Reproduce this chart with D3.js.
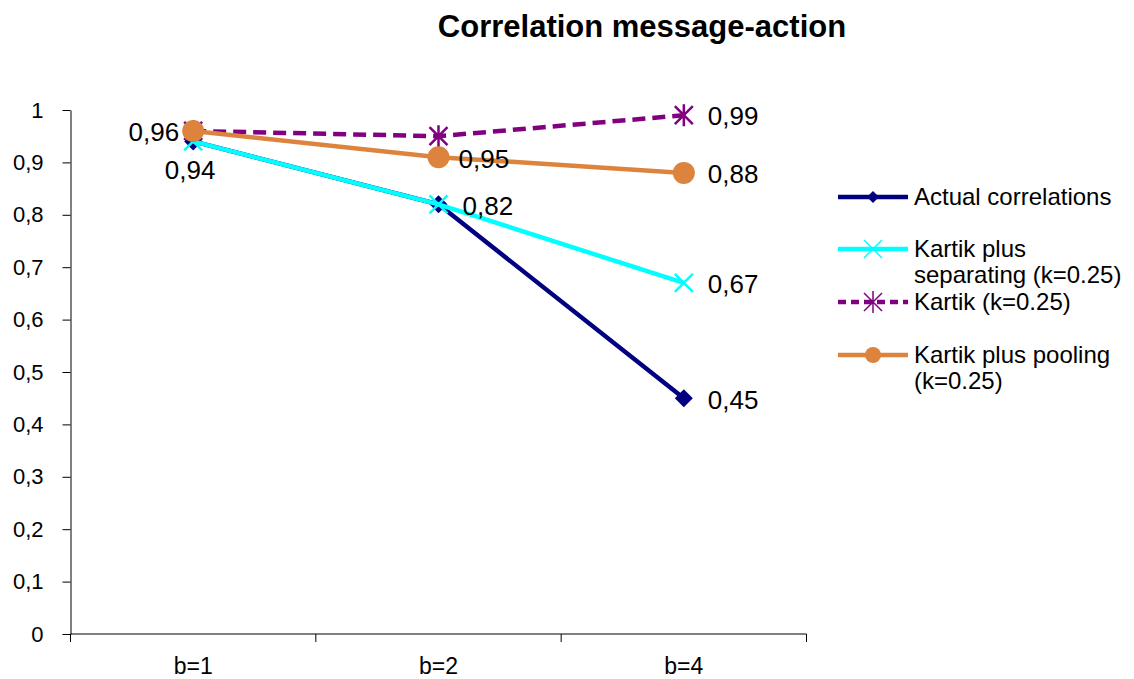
<!DOCTYPE html>
<html>
<head>
<meta charset="utf-8">
<script src="https://cdn.jsdelivr.net/npm/d3@7"></script>
<style>
  body { margin: 0; background: #fff; }
  svg { display: block; font-family: "Liberation Sans", Arial, sans-serif; }
</style>
</head>
<body>
<svg id="chart" width="1134" height="679"></svg>
<script>
// Categories and series values
const categories = ["b=1", "b=2", "b=4"];
const actual = [0.94, 0.82, 0.45];
const separating = [0.94, 0.82, 0.67];
const kartik = [0.96, 0.95, 0.99];
const pooling = [0.96, 0.91, 0.88];
const yTicks = [0, 0.1, 0.2, 0.3, 0.4, 0.5, 0.6, 0.7, 0.8, 0.9, 1];

const legendLines = [["Actual correlations"], ["Kartik plus", "separating (k=0.25)"], ["Kartik (k=0.25)"], ["Kartik plus pooling", "(k=0.25)"]];

// Value labels: [series index, category index, text, dx, dy, anchor]
const valueLabels = [
  [2, 0, "0,96", -14, 1, "end"],
  [0, 0, "0,94", -3, 28, "middle"],
  [2, 1, "0,95", 20, 23, "start"],
  [0, 1, "0,82", 24, 2, "start"],
  [2, 2, "0,99", 24, 1, "start"],
  [3, 2, "0,88", 24, 1, "start"],
  [1, 2, "0,67", 24, 1, "start"],
  [0, 2, "0,45", 24, 2, "start"]
];

const allSeries = [actual, separating, kartik, pooling];
const colors = ["#000080", "#00FFFF", "#800080", "#DC843E"];
const dashes = [null, null, "13,7", null];
const markers = ["diamond", "x", "star", "circle"];

const svg = d3.select("#chart");
const plotLeft = 70.5, plotRight = 806.5, plotTop = 110, plotBottom = 634;

const x = d3.scaleBand().domain(categories).range([plotLeft, plotRight]);
const y = d3.scaleLinear().domain([0, 1]).range([plotBottom, plotTop]);
const cx = c => x(c) + x.bandwidth() / 2;

// Title
svg.append("text")
  .attr("x", 642).attr("y", 37)
  .attr("text-anchor", "middle")
  .attr("font-size", 31).attr("font-weight", "bold")
  .text("Correlation message-action");

// Y axis
const yAxis = d3.axisLeft(y).tickValues(yTicks).tickSize(8).tickSizeOuter(0)
  .tickFormat(d => d3.format(".1f")(d).replace(".", ",").replace(/^0,0$/, "0").replace(/^1,0$/, "1"));
const gy = svg.append("g").attr("transform", `translate(${plotLeft},0)`).call(yAxis);
gy.selectAll("text").attr("font-size", 22).attr("fill", "#000").attr("x", -27);
gy.selectAll("line, path").attr("stroke", "#000").attr("stroke-width", 1);

// X axis with ticks at category boundaries
const gx = svg.append("g").attr("transform", `translate(0,${plotBottom})`);
gx.append("line").attr("x1", plotLeft).attr("x2", plotRight).attr("stroke", "#000");
const bounds = categories.map(c => x(c)).concat([plotRight]);
gx.selectAll("line.tick").data(bounds).join("line")
  .attr("class", "tick")
  .attr("x1", d => d).attr("x2", d => d).attr("y1", 0).attr("y2", 8)
  .attr("stroke", "#000");
gx.selectAll("text").data(categories).join("text")
  .attr("x", d => cx(d)).attr("y", 40)
  .attr("text-anchor", "middle").attr("font-size", 23)
  .text(d => d);

// Marker shapes
function drawMarker(g, type, color, px, py) {
  if (type === "diamond") {
    g.append("path").attr("d", `M${px},${py - 9}L${px + 9},${py}L${px},${py + 9}L${px - 9},${py}Z`).attr("fill", color);
  } else if (type === "x") {
    g.append("path").attr("d", `M${px - 9},${py - 9}L${px + 9},${py + 9}M${px - 9},${py + 9}L${px + 9},${py - 9}`)
      .attr("stroke", color).attr("stroke-width", 2.5);
  } else if (type === "star") {
    g.append("path").attr("d", `M${px - 9},${py - 9}L${px + 9},${py + 9}M${px - 9},${py + 9}L${px + 9},${py - 9}M${px},${py - 11}L${px},${py + 11}`)
      .attr("stroke", color).attr("stroke-width", 2.5);
  } else if (type === "circle") {
    g.append("circle").attr("cx", px).attr("cy", py).attr("r", 11).attr("fill", color);
  }
}

// Series lines and markers
const line = d3.line().x((d, i) => cx(categories[i])).y(d => y(d));
allSeries.forEach((vals, s) => {
  const g = svg.append("g");
  g.append("path").datum(vals).attr("d", line)
    .attr("fill", "none").attr("stroke", colors[s]).attr("stroke-width", 4.5)
    .attr("stroke-dasharray", dashes[s]);
  vals.forEach((v, i) => drawMarker(g, markers[s], colors[s], cx(categories[i]), y(v)));
});

// Value labels
svg.append("g").selectAll("text").data(valueLabels).join("text")
  .attr("x", d => cx(categories[d[1]]) + d[3])
  .attr("y", d => y(allSeries[d[0]][d[1]]) + d[4])
  .attr("dy", "0.35em")
  .attr("text-anchor", d => d[5])
  .attr("font-size", 26)
  .text(d => d[2]);

// Legend
const legendY = [197, 249, 302, 355];
const lg = svg.append("g");
legendLines.forEach((lines, s) => {
  const ly = legendY[s];
  lg.append("line").attr("x1", 838).attr("x2", 908).attr("y1", ly).attr("y2", ly)
    .attr("stroke", colors[s]).attr("stroke-width", 4.5).attr("stroke-dasharray", dashes[s] ? "8,5" : null);
  const mg = lg.append("g");
  if (markers[s] === "circle") {
    mg.append("circle").attr("cx", 873).attr("cy", ly).attr("r", 8).attr("fill", colors[s]);
  } else if (markers[s] === "diamond") {
    mg.append("path").attr("d", `M873,${ly - 6}L879,${ly}L873,${ly + 6}L867,${ly}Z`).attr("fill", colors[s]);
  } else {
    drawMarker(mg, markers[s], colors[s], 873, ly);
    mg.selectAll("path").attr("stroke-width", 1.5);
  }
  lines.forEach((t, k) => {
    lg.append("text").attr("x", 914).attr("y", ly + k * 25.5).attr("dy", "0.35em")
      .attr("font-size", 24).text(t);
  });
});
</script>
</body>
</html>
